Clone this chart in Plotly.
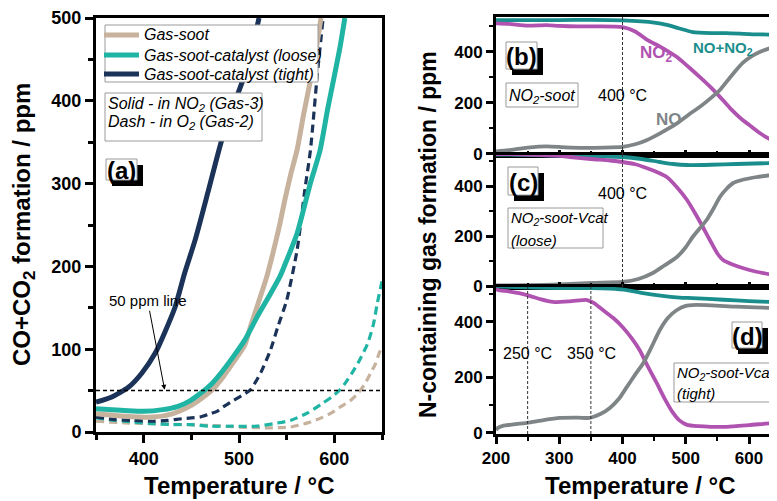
import plotly.graph_objects as go

# The page places the figure 8 px in from the top-left corner, so the figure is
# made 8 px smaller and all reference pixel positions are shifted by that offset.
OFF = 8
REF_W, REF_H = 777, 501
W, H = REF_W - OFF, REF_H - OFF
FONT = "Liberation Sans, Arial, sans-serif"

# ---------------- Panel (a): CO+CO2 formation ----------------
T_soot = [350, 380, 410, 430, 448, 460, 472, 483, 494, 506, 512, 520, 529, 536, 543, 548, 554, 561, 568, 575, 580, 586]
Y_soot = [22, 19, 18, 22, 31, 40, 51, 66, 84, 105, 127, 155, 187, 218, 252, 280, 310, 341, 385, 425, 455, 500]

T_loose = [350, 380, 400, 420, 436, 449, 460, 472, 483, 494, 506, 519, 531, 543, 552, 561, 568, 575, 585, 593, 600, 606, 611]
Y_loose = [28, 26, 25, 27, 31, 38, 47, 59, 74, 91, 111, 139, 163, 188, 213, 240, 270, 301, 340, 390, 430, 465, 500]

T_tight = [350, 366, 384, 398, 412, 422, 433, 443, 454, 468, 482, 499, 504, 512, 521]
Y_tight = [36, 42, 54, 71, 95, 120, 151, 192, 232, 292, 353, 409, 425, 455, 500]

T_soot_o2 = [350, 380, 410, 440, 470, 500, 530, 554, 572, 588, 597, 606, 617, 625, 632, 638, 643, 647, 650]
Y_soot_o2 = [13, 11, 10, 9, 8, 6, 5, 6, 11, 18, 23, 30, 38, 47, 58, 71, 82, 95, 103]

T_loose_o2 = [350, 370, 390, 410, 430, 449, 470, 494, 519, 536, 554, 572, 588, 597, 606, 612, 619, 627, 635, 641, 645, 650]
Y_loose_o2 = [17, 14, 12, 10, 9, 9, 7, 7, 7, 10, 14, 23, 35, 42, 51, 60, 72, 88, 107, 130, 155, 182]

T_tight_o2 = [350, 370, 389, 410, 425, 440, 450, 459, 470, 477, 483, 494, 503, 512, 523, 533, 541, 550, 561, 569, 575, 582, 588]
Y_tight_o2 = [18, 15, 14, 13, 14, 16, 17, 18, 22, 25, 30, 38, 44, 51, 72, 99, 128, 159, 220, 292, 341, 430, 497]

THRESHOLD_PPM = 50

# ---------------- Panel (b): NO2-soot ----------------
T_b_no2 = [200, 220, 250, 280, 300, 330, 360, 400, 420, 439, 460, 486, 505, 522, 540, 554, 570, 590, 605, 617, 630, 641, 645]
Y_b_no2 = [512, 510, 503, 505, 502, 500, 500, 497, 480, 447, 420, 380, 340, 302, 260, 224, 180, 133, 105, 82, 62, 47, 44]
T_b_no = [200, 220, 250, 280, 310, 340, 370, 400, 420, 439, 460, 486, 505, 522, 540, 554, 570, 590, 605, 617, 630, 641, 645]
Y_b_no = [10, 15, 25, 30, 26, 24, 25, 28, 38, 55, 82, 120, 155, 184, 220, 251, 300, 357, 385, 400, 412, 420, 422]
T_b_sum = [200, 250, 300, 350, 400, 430, 450, 470, 490, 511, 540, 564, 600, 641, 645]
Y_b_sum = [525, 525, 525, 526, 524, 520, 515, 506, 492, 478, 474, 474, 470, 467, 466]

# ---------------- Panel (c): NO2-soot-Vcat (loose) ----------------
T_c_no2 = [200, 250, 300, 317, 350, 380, 400, 420, 438, 455, 470, 486, 502, 515, 527, 540, 550, 559, 575, 590, 610, 630, 645]
Y_c_no2 = [528, 526, 521, 516, 508, 502, 496, 487, 472, 455, 436, 395, 344, 290, 236, 175, 130, 104, 85, 72, 58, 48, 42]
T_c_no = [200, 250, 300, 353, 400, 425, 448, 465, 486, 500, 511, 522, 533, 544, 554, 565, 575, 590, 610, 630, 645]
Y_c_no = [2, 3, 6, 12, 16, 28, 52, 80, 116, 155, 196, 230, 264, 310, 356, 390, 412, 425, 435, 442, 446]
T_c_sum = [200, 300, 350, 400, 430, 459, 480, 502, 540, 580, 641, 645]
Y_c_sum = [526, 522, 520, 516, 508, 496, 488, 484, 485, 488, 492, 492]

# ---------------- Panel (d): NO2-soot-Vcat (tight) ----------------
T_d_no2 = [200, 203, 220, 249, 270, 290, 320, 344, 355, 369, 385, 400, 415, 427, 440, 454, 467, 480, 490, 502, 520, 540, 565, 600, 641, 645]
Y_d_no2 = [520, 515, 510, 497, 482, 472, 475, 479, 468, 443, 415, 382, 340, 299, 240, 180, 122, 72, 45, 29, 24, 22, 22, 28, 36, 36]
T_d_no = [200, 203, 212, 222, 249, 275, 301, 330, 348, 365, 380, 395, 407, 420, 433, 446, 459, 472, 486, 500, 511, 540, 580, 641, 645]
Y_d_no = [10, 18, 26, 29, 36, 46, 54, 55, 54, 68, 90, 125, 166, 210, 252, 310, 371, 415, 443, 458, 461, 460, 455, 450, 450]
T_d_sum = [200, 250, 300, 350, 380, 407, 430, 460, 490, 511, 560, 600, 641, 645]
Y_d_sum = [528, 525, 522, 522, 520, 515, 505, 495, 488, 486, 480, 475, 472, 472]

MARK_B = [400]
MARK_C = [400]
MARK_D = [250, 350]

# ---------------- colours ----------------
C_TAN = "#c6b29d"
C_TEAL = "#1fb4a3"
C_NAVY = "#1b3358"
C_MAG = "#b052b0"
C_GRAY = "#7f8486"
C_DTEAL = "#1a8e8c"


def px(x):
    return (x - OFF) / W


def py(y):
    return 1 - (y - OFF) / H


fig = go.Figure()


def line(x, y, color, width, dash="solid", xa="x", ya="y"):
    fig.add_trace(go.Scatter(
        x=x, y=y, mode="lines",
        line=dict(color=color, width=width, dash=dash, shape="spline", smoothing=0.6),
        xaxis=xa, yaxis=ya, showlegend=False, hoverinfo="skip"))


DASH = "8px,5px"
line(T_soot_o2, Y_soot_o2, C_TAN, 3.2, DASH)
line(T_loose_o2, Y_loose_o2, C_TEAL, 3.2, DASH)
line(T_tight_o2, Y_tight_o2, C_NAVY, 3.2, DASH)
line(T_soot, Y_soot, C_TAN, 5)
line(T_loose, Y_loose, C_TEAL, 5)
line(T_tight, Y_tight, C_NAVY, 5)

for xa, ya, (tn2, yn2), (tn, yn), (ts, ys) in [
    ("x2", "y2", (T_b_no2, Y_b_no2), (T_b_no, Y_b_no), (T_b_sum, Y_b_sum)),
    ("x3", "y3", (T_c_no2, Y_c_no2), (T_c_no, Y_c_no), (T_c_sum, Y_c_sum)),
    ("x4", "y4", (T_d_no2, Y_d_no2), (T_d_no, Y_d_no), (T_d_sum, Y_d_sum)),
]:
    line(ts, ys, C_DTEAL, 3.8, xa=xa, ya=ya)
    line(tn2, yn2, C_MAG, 3.8, xa=xa, ya=ya)
    line(tn, yn, C_GRAY, 3.8, xa=xa, ya=ya)

tickfont = dict(family=FONT, size=18, color="black", weight="bold")
tickfont_r = dict(family=FONT, size=17, color="black", weight="bold")

ax_common = dict(showline=True, linecolor="black", linewidth=3, showgrid=False, zeroline=False,
                 ticks="outside", tickcolor="black", tickwidth=2.5, automargin=False)

RX0, RX1 = 200, 200 + (REF_W - 496) / 0.6325

fig.update_layout(
    width=W, height=H, margin=dict(l=0, r=0, t=0, b=0, pad=0, autoexpand=False),
    paper_bgcolor="white", plot_bgcolor="white",
    font=dict(family=FONT, color="black"),
    xaxis=dict(ax_common, domain=[px(96), px(382)], anchor="y", range=[350, 650],
               tick0=0, dtick=100, ticklen=8, mirror=True, tickfont=tickfont,
               minor=dict(dtick=50, ticks="outside", ticklen=5, tickwidth=2.5, tickcolor="black")),
    yaxis=dict(ax_common, domain=[py(432), py(18)], anchor="x", range=[0, 500],
               tick0=0, dtick=100, ticklen=8, mirror=True, tickfont=tickfont,
               minor=dict(dtick=50, ticks="outside", ticklen=5, tickwidth=2.5, tickcolor="black")),
)

panels = [
    ("xaxis2", "yaxis2", "y2", "x2", (155, 17), [-4, 537]),
    ("xaxis3", "yaxis3", "y3", "x3", (287, 155), [-4, 524]),
    ("xaxis4", "yaxis4", "y4", "x4", (434, 287), [-4, 526]),
]
for i, (xk, yk, yref, xref, (pb, pt), yr) in enumerate(panels):
    last = i == 2
    fig.layout[xk] = dict(ax_common, domain=[px(496), 1.0], anchor=yref, range=[RX0, RX1],
                          tick0=0, dtick=100, mirror=True,
                          ticks="outside" if last else "inside",
                          ticklen=7 if last else 5,
                          showticklabels=last, tickfont=tickfont_r,
                          minor=dict(dtick=50, ticks="outside" if last else "inside",
                                     ticklen=4, tickwidth=2, tickcolor="black"))
    fig.layout[yk] = dict(ax_common, domain=[py(pb), py(pt)], anchor=xref, range=yr,
                          tick0=0, dtick=200, ticklen=7, tickfont=tickfont_r,
                          minor=dict(dtick=100, ticks="outside", ticklen=4, tickwidth=2, tickcolor="black"))

shapes = []
annotations = []

# 50 ppm reference line
shapes.append(dict(type="line", xref="x domain", yref="y", x0=0, x1=1, y0=THRESHOLD_PPM, y1=THRESHOLD_PPM,
                   line=dict(color="black", width=1.5, dash="4px,3px"), layer="above"))

# dashed temperature markers
for xref, yref, marks in [("x2", "y2", MARK_B), ("x3", "y3", MARK_C), ("x4", "y4", MARK_D)]:
    for m in marks:
        shapes.append(dict(type="line", xref=xref, yref=yref + " domain", x0=m, x1=m, y0=0, y1=1,
                           line=dict(color="#333333", width=1, dash="3px,2px"), layer="above"))


def box(x0, y0, x1, y1, shadow=False):
    if shadow:
        shapes.append(dict(type="rect", xref="paper", yref="paper",
                           x0=px(x0 + 6), x1=px(x1 + 6), y0=py(y1 + 6), y1=py(y0 + 6),
                           fillcolor="black", line=dict(width=0), layer="above"))
    shapes.append(dict(type="rect", xref="paper", yref="paper",
                       x0=px(x0), x1=px(x1), y0=py(y1), y1=py(y0),
                       fillcolor="white", line=dict(color="#9a9a9a", width=1), layer="above"))


def text(x, y, s, size, color="black", anchor="left"):
    annotations.append(dict(x=px(x), y=py(y), xref="paper", yref="paper", text=s, showarrow=False,
                            xanchor=anchor, yanchor="middle",
                            font=dict(family=FONT, size=size, color=color)))


# legend box (a)
box(105, 25, 318, 82)
for yy, col, lab in [(35, C_TAN, "Gas-soot"), (55, C_TEAL, "Gas-soot-catalyst (loose)"),
                     (74, C_NAVY, "Gas-soot-catalyst (tight)")]:
    shapes.append(dict(type="line", xref="paper", yref="paper", x0=px(104), x1=px(139), y0=py(yy), y1=py(yy),
                       line=dict(color=col, width=5), layer="above"))
    text(142, yy, "<i>" + lab + "</i>", 16)

# note box
box(105, 93, 262, 141)
text(106, 104, "<i>Solid - in NO<sub>2</sub> (Gas-3)</i>", 16)
text(106, 122, "<i>Dash - in O<sub>2</sub> (Gas-2)</i>", 16)

# panel label boxes
for (x0, y0, x1, y1, lab) in [(106, 159, 137, 180, "(a)"), (506, 42, 537, 69, "(b)"),
                              (508, 167, 538, 195, "(c)"), (732, 322, 762, 348, "(d)")]:
    box(x0, y0, x1, y1, shadow=True)
    text((x0 + x1) / 2, (y0 + y1) / 2 + 1, "<b>" + lab + "</b>", 24, anchor="center")

# sample boxes in right panels
box(506, 83, 578, 107)
text(507, 96, "<i>NO<sub>2</sub>-soot</i>", 16)
box(508, 208, 603, 248)
text(509, 218, "<i>NO<sub>2</sub>-soot-Vcat</i>", 15)
text(509, 240, "<i>(loose)</i>", 15)
box(674, 363, 777, 402)
text(675, 373, "<i>NO<sub>2</sub>-soot-Vcat</i>", 15)
text(675, 393, "<i>(tight)</i>", 15)

# temperature labels
for xref, yref, xv, yv, s in [("x2", "y2", 400, 231, "400 °C"), ("x3", "y3", 400, 372, "400 °C"),
                              ("x4", "y4", 250, 288, "250 °C"), ("x4", "y4", 351, 288, "350 °C")]:
    annotations.append(dict(x=xv, y=yv, xref=xref, yref=yref, text=s, showarrow=False,
                            xanchor="center", yanchor="middle",
                            font=dict(family=FONT, size=16, color="black")))

# species labels (b)
for xv, yv, s, col, sz in [(454, 392, "<b>NO<sub>2</sub></b>", C_MAG, 17),
                           (559, 412, "<b>NO+NO<sub>2</sub></b>", C_DTEAL, 15),
                           (474, 137, "<b>NO</b>", C_GRAY, 17)]:
    annotations.append(dict(x=xv, y=yv, xref="x2", yref="y2", text=s, showarrow=False,
                            xanchor="center", yanchor="middle", font=dict(family=FONT, size=sz, color=col)))

# 50 ppm arrow
annotations.append(dict(x=422, y=51, xref="x", yref="y", text="50 ppm line", showarrow=True,
                        arrowhead=2, arrowsize=1, arrowwidth=1, arrowcolor="black",
                        ax=-17, ay=-89, font=dict(family=FONT, size=15, color="black")))

# axis titles
text(239, 485, "<b>Temperature / °C</b>", 24, anchor="center")
text(640, 485, "<b>Temperature / °C</b>", 24, anchor="center")
annotations.append(dict(x=px(24), y=py(225), xref="paper", yref="paper", showarrow=False,
                        text="<b>CO+CO<sub>2</sub> formation / ppm</b>", textangle=-90,
                        xanchor="center", yanchor="middle", font=dict(family=FONT, size=24, color="black")))
annotations.append(dict(x=px(428), y=py(235), xref="paper", yref="paper", showarrow=False,
                        text="<b>N-containing gas formation / ppm</b>", textangle=-90,
                        xanchor="center", yanchor="middle", font=dict(family=FONT, size=23, color="black")))

fig.update_layout(shapes=shapes, annotations=annotations)
fig.write_html("out.html")
